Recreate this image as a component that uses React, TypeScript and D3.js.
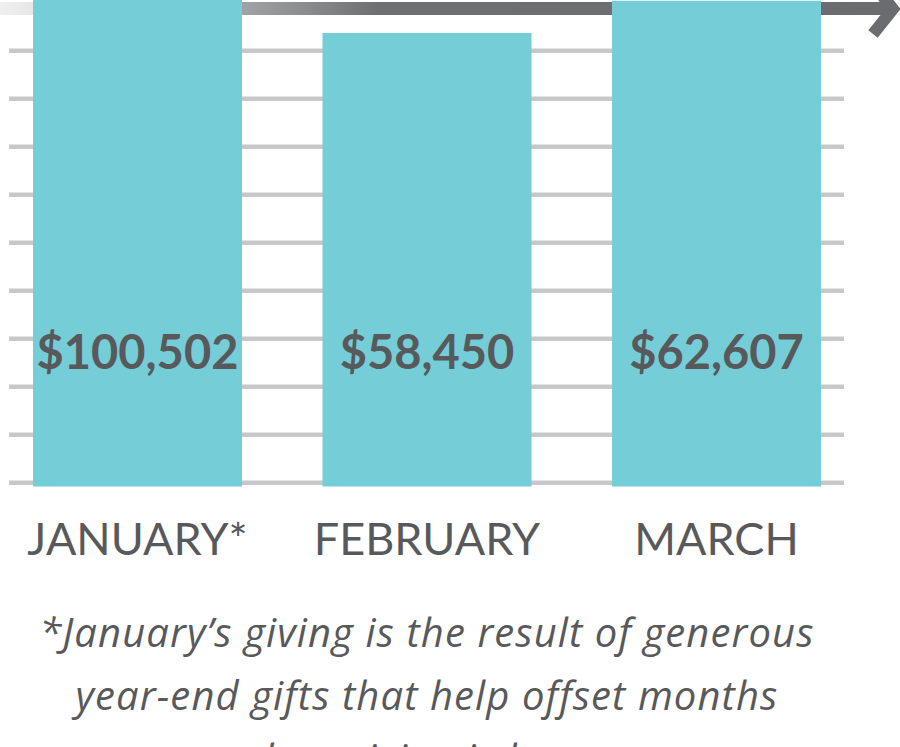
import React, { useEffect } from "react";
import * as d3 from "d3";

const categories = ["JANUARY*", "FEBRUARY", "MARCH"];
const values = [100502, 58450, 62607];
const valueLabels = ["$100,502", "$58,450", "$62,607"];
const gridCount = 10;
const footnoteLines = [
  "*January\u2019s giving is the result of generous",
  "year-end gifts that help offset months",
  "when giving is lower.",
];

const W = 900;
const H = 747;
const TEXT = "#58595b";
const BAR = "#75cdd8";
const GRID = "#c8c8ca";

export default function App() {
  useEffect(() => {
    document.body.style.margin = "0";
  }, []);

  const x = d3.scaleBand<string>().domain(categories).range([33, 821]).paddingInner(0.278).paddingOuter(0);
  const y = d3.scaleLinear().domain([0, values[1]]).range([486.5, 33]);
  const g = d3.scaleLinear().domain([0, gridCount - 1]).range([482.8, 50.8]);
  const gridIdx = d3.range(gridCount);

  return (
    <svg width={W} height={H} style={{ position: "absolute", left: 0, top: 0, display: "block" }}>
      <defs>
        <linearGradient id="arrowGrad" x1="0" x2="900" y1="0" y2="0" gradientUnits="userSpaceOnUse">
          <stop offset="0" stopColor="#f0f0f1" />
          <stop offset="0.15" stopColor="#c8c9cb" />
          <stop offset="0.33" stopColor="#8e8f93" />
          <stop offset="0.42" stopColor="#6e6f73" />
          <stop offset="1" stopColor="#6b6c70" />
        </linearGradient>
      </defs>
      <rect x={0} y={0} width={W} height={H} fill="#ffffff" />
      {gridIdx.map((i) => (
        <line key={i} x1={9} x2={844} y1={g(i)} y2={g(i)} stroke={GRID} strokeWidth={4.5} />
      ))}
      <line x1={0} x2={890} y1={8.5} y2={8.5} stroke="url(#arrowGrad)" strokeWidth={13} />
      <polyline
        points="873,-16 893,9 873,34"
        fill="none"
        stroke="#6b6c70"
        strokeWidth={12}
        strokeLinejoin="miter"
        strokeLinecap="butt"
      />
      {categories.map((c, i) => (
        <rect key={c} x={x(c)} y={y(values[i])} width={x.bandwidth()} height={y(0) - y(values[i])} fill={BAR} />
      ))}
      {categories.map((c, i) => (
        <text
          key={c + "v"}
          x={(x(c) as number) + x.bandwidth() / 2}
          y={369}
          textAnchor="middle"
          fontFamily="Lato, 'Open Sans', sans-serif"
          fontWeight={700}
          fontSize={47}
          fill={TEXT}
        >
          {valueLabels[i]}
        </text>
      ))}
      {categories.map((c) => (
        <text
          key={c + "c"}
          x={(x(c) as number) + x.bandwidth() / 2}
          y={555}
          textAnchor="middle"
          fontFamily="Lato, 'Open Sans', sans-serif"
          fontWeight={400}
          fontSize={45}
          fill={TEXT}
        >
          {c}
        </text>
      ))}
      {footnoteLines.map((t, i) => (
        <text
          key={i}
          x={427}
          y={647 + i * 63}
          textAnchor="middle"
          fontFamily="'Open Sans', Lato, sans-serif"
          fontStyle="italic"
          fontSize={40}
          letterSpacing={1.1}
          fill={TEXT}
        >
          {t}
        </text>
      ))}
    </svg>
  );
}
